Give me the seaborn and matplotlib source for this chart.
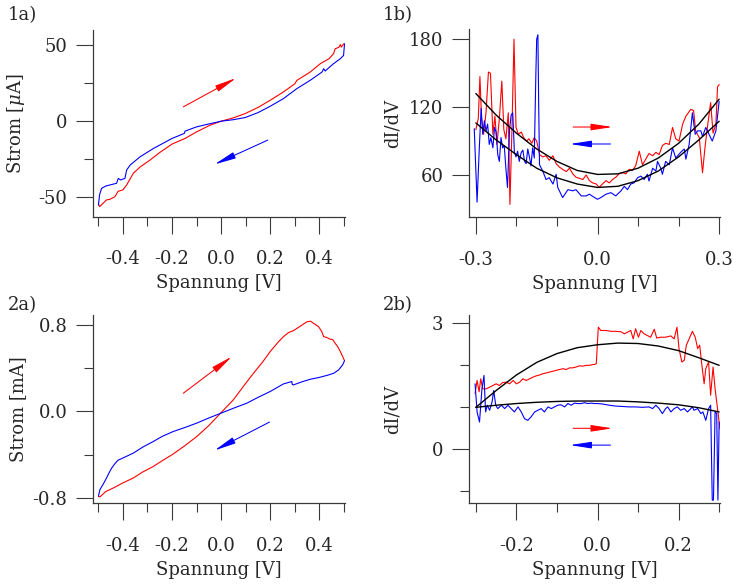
import pandas as pd
import seaborn as sns
import matplotlib.pyplot as plt

# 1a) I-V loop, current in uA
iv1_up_v = [-0.500, -0.495, -0.467, -0.453, -0.433, -0.420, -0.400, -0.385, -0.358, -0.330, -0.290,
            -0.250, -0.200, -0.147, -0.100, -0.045, 0.000, 0.050, 0.098, 0.150, 0.200, 0.254,
            0.300, 0.309, 0.363, 0.404, 0.440, 0.458, 0.465, 0.480, 0.486, 0.490, 0.500]
iv1_up_i = [-54.2, -56.0, -51.6, -51.2, -49.5, -46.0, -45.0, -41.8, -34.2, -30.0, -25.5,
            -20.5, -15.0, -11.3, -7.0, -2.6, 0.0, 2.2, 5.0, 9.0, 13.7, 19.2,
            24.5, 26.8, 32.2, 37.7, 41.0, 44.2, 47.5, 48.5, 50.3, 48.6, 50.8]
iv1_down_v = [0.503, 0.499, 0.486, 0.458, 0.424, 0.418, 0.411, 0.363, 0.309, 0.254, 0.200, 0.150,
              0.098, 0.050, 0.000, -0.050, -0.100, -0.147, -0.150, -0.200, -0.276, -0.330, -0.371,
              -0.385, -0.392, -0.410, -0.419, -0.426, -0.453, -0.470, -0.487, -0.495, -0.500]
iv1_down_i = [50.8, 43.1, 41.0, 37.7, 32.9, 34.4, 32.2, 26.8, 21.4, 14.8, 9.8, 5.6,
              2.4, 1.0, 0.0, -1.8, -3.7, -6.5, -8.0, -11.3, -17.9, -23.3, -28.8,
              -32.0, -37.5, -38.5, -37.5, -40.7, -41.8, -42.5, -44.0, -48.0, -55.0]

# 1b) dI/dV
di1_up_v = [-0.300, -0.294, -0.290, -0.286, -0.281, -0.275, -0.269, -0.264, -0.258, -0.253,
            -0.248, -0.242, -0.236, -0.231, -0.226, -0.220, -0.216, -0.211, -0.206, -0.201,
            -0.195, -0.188, -0.182, -0.175, -0.169, -0.162, -0.156, -0.150, -0.143, -0.135,
            -0.127, -0.119, -0.110, -0.102, -0.094, -0.086, -0.077, -0.069, -0.061, -0.053,
            -0.044, -0.036, -0.028, -0.020, -0.012, -0.003, 0.004, 0.012, 0.021, 0.029,
            0.037, 0.045, 0.053, 0.062, 0.070, 0.078, 0.086, 0.094, 0.103, 0.111,
            0.119, 0.127, 0.136, 0.144, 0.152, 0.160, 0.168, 0.177, 0.185, 0.193,
            0.201, 0.210, 0.218, 0.230, 0.237, 0.242, 0.251, 0.259, 0.265, 0.271,
            0.279, 0.285, 0.292, 0.296, 0.300]
di1_up_g = [100, 110, 147, 110, 96, 115, 151, 150, 96, 112,
            87, 110, 143, 100, 92, 115, 34, 100, 180, 102,
            96, 98, 93, 90, 92, 88, 93, 90, 78, 76,
            77, 73, 77, 70, 67, 65, 63, 66, 61, 58,
            57, 56, 60, 55, 53, 52, 49, 52, 55, 53,
            56, 58, 61, 62, 61, 65, 64, 68, 81, 69,
            74, 79, 77, 80, 78, 86, 88, 87, 102, 92,
            90, 105, 112, 118, 117, 99, 93, 62, 84, 102,
            124, 97, 105, 138, 140]
di1_down_v = [-0.304, -0.297, -0.292, -0.287, -0.283, -0.279, -0.275, -0.271, -0.267, -0.263,
              -0.258, -0.254, -0.250, -0.246, -0.242, -0.238, -0.234, -0.230, -0.226, -0.222,
              -0.217, -0.213, -0.209, -0.205, -0.201, -0.197, -0.193, -0.188, -0.184, -0.180,
              -0.176, -0.172, -0.168, -0.164, -0.160, -0.156, -0.152, -0.150, -0.147, -0.145,
              -0.143, -0.135, -0.127, -0.119, -0.110, -0.102, -0.098, -0.086, -0.073, -0.061,
              -0.053, -0.040, -0.028, -0.020, -0.007, 0.000, 0.008, 0.021, 0.033, 0.045,
              0.058, 0.066, 0.074, 0.082, 0.090, 0.099, 0.107, 0.115, 0.123, 0.127,
              0.136, 0.144, 0.148, 0.156, 0.160, 0.168, 0.177, 0.185, 0.193, 0.205,
              0.214, 0.218, 0.226, 0.234, 0.241, 0.247, 0.255, 0.259, 0.267, 0.275,
              0.283, 0.292, 0.300]
di1_down_g = [101, 36, 80, 119, 96, 108, 99, 105, 87, 93,
              84, 102, 98, 78, 72, 93, 84, 86, 66, 49,
              100, 113, 115, 80, 76, 81, 72, 80, 82, 72,
              70, 83, 76, 68, 84, 75, 150, 180, 184, 120,
              69, 63.5, 56, 57.6, 52, 60.6, 49, 40, 47, 46,
              47, 41.5, 41.5, 43, 40, 38.5, 40, 43, 44.4, 41.5,
              46, 50, 47, 52, 53, 57.6, 59, 56, 60.6, 54.7,
              66, 63.5, 72, 66, 60.6, 72, 69, 84, 75, 80,
              83, 74, 87, 115, 96, 99, 99, 94, 102, 96,
              90, 99, 125]

fit_v = [-0.30, -0.25, -0.20, -0.15, -0.10, -0.05, 0.00, 0.05, 0.10, 0.15, 0.20, 0.25, 0.30]
fit1_upper = [132, 113, 97, 83, 72, 64, 60.5, 61, 66, 75, 88, 105, 127]
fit1_lower = [106, 91, 78, 66, 57.5, 52, 49, 50, 55, 63.5, 76, 91, 107.5]

# 2a) I-V loop, current in mA
iv2_up_v = [-0.498, -0.494, -0.470, -0.440, -0.400, -0.358, -0.320, -0.276, -0.240, -0.200,
            -0.150, -0.099, -0.050, 0.000, 0.050, 0.100, 0.132, 0.170, 0.200, 0.230,
            0.254, 0.275, 0.295, 0.320, 0.350, 0.365, 0.377, 0.397, 0.410, 0.418,
            0.430, 0.445, 0.455, 0.465, 0.475, 0.486, 0.495, 0.503]
iv2_up_i = [-0.785, -0.79, -0.74, -0.708, -0.66, -0.615, -0.56, -0.508, -0.455, -0.40,
            -0.32, -0.231, -0.13, -0.01, 0.108, 0.26, 0.354, 0.46, 0.554, 0.635,
            0.692, 0.73, 0.748, 0.785, 0.83, 0.835, 0.815, 0.785, 0.74, 0.692,
            0.685, 0.668, 0.665, 0.63, 0.60, 0.554, 0.51, 0.47]
iv2_down_v = [0.503, 0.495, 0.479, 0.460, 0.438, 0.400, 0.363, 0.330, 0.295, 0.290,
              0.288, 0.254, 0.200, 0.150, 0.105, 0.050, 0.000, -0.050, -0.100, -0.150,
              -0.195, -0.240, -0.276, -0.320, -0.358, -0.400, -0.420, -0.433, -0.445, -0.455,
              -0.467, -0.480, -0.494, -0.500]
iv2_down_i = [0.47, 0.43, 0.385, 0.355, 0.338, 0.315, 0.298, 0.275, 0.246, 0.25,
              0.277, 0.255, 0.185, 0.13, 0.077, 0.03, -0.015, -0.06, -0.108, -0.15,
              -0.185, -0.23, -0.277, -0.33, -0.385, -0.43, -0.45, -0.483, -0.52, -0.56,
              -0.615, -0.67, -0.723, -0.785]

# 2b) dI/dV
di2_up_v = [-0.302, -0.297, -0.292, -0.288, -0.283, -0.275, -0.266, -0.258, -0.250, -0.242,
            -0.234, -0.225, -0.217, -0.208, -0.200, -0.192, -0.184, -0.176, -0.167, -0.159,
            -0.151, -0.143, -0.135, -0.126, -0.118, -0.110, -0.102, -0.094, -0.085, -0.077,
            -0.069, -0.061, -0.053, -0.044, -0.036, -0.028, -0.020, -0.012, -0.007, -0.003,
            0.002, 0.008, 0.021, 0.033, 0.045, 0.058, 0.066, 0.074, 0.082, 0.088,
            0.094, 0.101, 0.107, 0.115, 0.123, 0.131, 0.140, 0.146, 0.156, 0.168,
            0.181, 0.189, 0.196, 0.201, 0.208, 0.214, 0.219, 0.226, 0.234, 0.241,
            0.247, 0.252, 0.257, 0.263, 0.267, 0.274, 0.279, 0.285, 0.290, 0.296,
            0.302]
di2_up_g = [1.33, 1.64, 1.37, 1.68, 1.44, 1.44, 1.48, 1.52, 1.56, 1.52,
            1.59, 1.60, 1.56, 1.64, 1.56, 1.60, 1.68, 1.64, 1.68, 1.72,
            1.75, 1.77, 1.80, 1.82, 1.84, 1.86, 1.88, 1.90, 1.92, 1.90,
            1.94, 1.94, 1.96, 1.99, 1.98, 2.00, 2.00, 2.02, 2.02, 2.04,
            2.91, 2.83, 2.83, 2.81, 2.81, 2.80, 2.75, 2.79, 2.83, 2.63,
            2.87, 2.67, 2.83, 2.75, 2.71, 2.67, 2.86, 2.65, 2.67, 2.67,
            2.70, 2.63, 2.91, 2.40, 2.08, 2.12, 2.48, 2.63, 2.81, 2.67,
            2.40, 2.48, 2.04, 1.56, 1.92, 2.08, 1.29, 1.96, 1.44, 0.97,
            0.49]
di2_down_v = [-0.302, -0.297, -0.291, -0.285, -0.280, -0.276, -0.272, -0.266, -0.260, -0.256,
              -0.251, -0.246, -0.237, -0.229, -0.221, -0.213, -0.205, -0.196, -0.188, -0.180,
              -0.172, -0.164, -0.155, -0.147, -0.139, -0.131, -0.122, -0.114, -0.106, -0.098,
              -0.090, -0.081, -0.073, -0.065, -0.057, -0.048, -0.040, -0.032, -0.024, -0.016,
              -0.007, 0.000, 0.012, 0.029, 0.045, 0.062, 0.078, 0.094, 0.111, 0.127,
              0.136, 0.144, 0.152, 0.160, 0.168, 0.173, 0.181, 0.189, 0.197, 0.205,
              0.214, 0.222, 0.230, 0.234, 0.238, 0.247, 0.255, 0.260, 0.267, 0.274,
              0.279, 0.283, 0.286, 0.290, 0.294, 0.297, 0.300]
di2_down_g = [1.56, 0.89, 0.65, 1.44, 1.76, 0.89, 1.05, 0.93, 1.13, 1.40,
              1.05, 0.97, 1.05, 0.97, 1.05, 0.97, 0.89, 1.01, 0.89, 0.73,
              0.69, 0.77, 0.89, 0.93, 0.97, 0.89, 1.01, 0.97, 1.01, 1.05,
              1.06, 1.01, 1.09, 1.05, 1.10, 1.09, 1.09, 1.11, 1.09, 1.10,
              1.09, 1.09, 1.08, 1.05, 1.03, 1.02, 1.01, 1.01, 1.00, 1.01,
              0.97, 1.05, 0.97, 0.85, 0.97, 1.01, 0.89, 0.97, 1.01, 0.93,
              0.97, 0.89, 0.97, 1.01, 0.93, 0.97, 0.85, 0.89, 0.69, 0.97,
              1.05, -1.21, -1.21, 0.90, 0.85, -1.21, 0.65]
fit2_upper = [1.0, 1.4, 1.77, 2.07, 2.28, 2.42, 2.49, 2.53, 2.52, 2.46, 2.35, 2.18, 2.0]
fit2_lower = [1.0, 1.05, 1.09, 1.12, 1.14, 1.15, 1.15, 1.15, 1.13, 1.10, 1.06, 0.99, 0.89]

sns.set_style('ticks')
plt.rcParams['font.family'] = ['DejaVu Serif']
plt.rcParams['mathtext.fontset'] = 'dejavuserif'
plt.rcParams['axes.unicode_minus'] = False
FS = 13
AX_COL = '#3a3a3a'

fig = plt.figure(figsize=(7.33, 5.86), dpi=100)
ax1a = fig.add_axes([0.1269, 0.6297, 0.3438, 0.3191])
ax1b = fig.add_axes([0.6398, 0.6292, 0.3424, 0.3208])
ax2a = fig.add_axes([0.1269, 0.1411, 0.3438, 0.3213])
ax2b = fig.add_axes([0.6398, 0.1411, 0.3424, 0.3213])


def line(ax, x, y, color, lw=0.8):
    df = pd.DataFrame({'x': x, 'y': y})
    sns.lineplot(data=df, x='x', y='y', ax=ax, color=color, lw=lw,
                 sort=False, estimator=None)


def arrow(ax, tail, head, color):
    ax.annotate('', xy=head, xytext=tail,
                arrowprops=dict(arrowstyle='-|>,head_length=1.3,head_width=0.2',
                                color=color, lw=0.75, shrinkA=0, shrinkB=0,
                                mutation_scale=10))


def style(ax, xlim, ylim, xmaj, xmin, ymaj, ymin, ylab, ylab_x):
    sns.despine(ax=ax)
    ax.set_xlim(*xlim)
    ax.set_ylim(*ylim)
    ax.set_xticks(xmaj)
    ax.set_xticklabels(['%.1f' % v for v in xmaj])
    ax.set_xticks(xmin, minor=True)
    ax.set_yticks(ymaj)
    ax.set_yticks(ymin, minor=True)
    for s in ['left', 'bottom']:
        ax.spines[s].set_color(AX_COL)
        ax.spines[s].set_linewidth(0.9)
    ax.tick_params(which='major', length=12, width=0.8, color=AX_COL, labelsize=FS)
    ax.tick_params(which='minor', length=6.5, width=0.8, color=AX_COL)
    ax.tick_params(axis='x', which='major', pad=12)
    ax.tick_params(axis='y', which='major', pad=6.5)
    ax.set_xlabel('Spannung [V]', fontsize=FS)
    ax.set_ylabel(ylab, fontsize=FS)
    ax.xaxis.set_label_coords(0.5, -0.305)
    ax.yaxis.set_label_coords(ylab_x, 0.5)


# 1a
line(ax1a, iv1_up_v, iv1_up_i, 'red')
line(ax1a, iv1_down_v, iv1_down_i, 'blue')
arrow(ax1a, (-0.154, 9.4), (0.061, 28.3), 'red')
arrow(ax1a, (0.19, -12.4), (-0.027, -28.3), 'blue')
style(ax1a, (-0.522, 0.505), (-62.8, 59.8), [-0.4, -0.2, 0.0, 0.2, 0.4],
      [-0.5, -0.3, -0.1, 0.1, 0.3, 0.5], [-50, 0, 50], [-25, 25],
      r'Strom [$\mu$A]', -0.26)

# 1b
line(ax1b, di1_up_v, di1_up_g, 'red')
line(ax1b, di1_down_v, di1_down_g, 'blue')
line(ax1b, fit_v, fit1_upper, 'black', 1.0)
line(ax1b, fit_v, fit1_lower, 'black', 1.0)
arrow(ax1b, (-0.06, 102.4), (0.037, 102.4), 'red')
arrow(ax1b, (0.032, 87.4), (-0.068, 87.4), 'blue')
style(ax1b, (-0.317, 0.302), (22.6, 188.8), [-0.3, 0.0, 0.3],
      [-0.2, -0.1, 0.1, 0.2], [60, 120, 180], [], 'dI/dV', -0.267)

# 2a
line(ax2a, iv2_up_v, iv2_up_i, 'red')
line(ax2a, iv2_down_v, iv2_down_i, 'blue')
arrow(ax2a, (-0.154, 0.169), (0.044, 0.508), 'red')
arrow(ax2a, (0.197, -0.098), (-0.027, -0.36), 'blue')
style(ax2a, (-0.522, 0.505), (-0.849, 0.892), [-0.4, -0.2, 0.0, 0.2, 0.4],
      [-0.5, -0.3, -0.1, 0.1, 0.3, 0.5], [-0.8, 0.0, 0.8], [-0.4, 0.4],
      'Strom [mA]', -0.26)
ax2a.set_yticklabels(['-0.8', '0.0', '0.8'])

# 2b
line(ax2b, di2_up_v, di2_up_g, 'red')
line(ax2b, di2_down_v, di2_down_g, 'blue')
line(ax2b, fit_v, fit2_upper, 'black', 1.0)
line(ax2b, fit_v, fit2_lower, 'black', 1.0)
arrow(ax2b, (-0.06, 0.5), (0.037, 0.5), 'red')
arrow(ax2b, (0.032, 0.1), (-0.068, 0.1), 'blue')
style(ax2b, (-0.317, 0.302), (-1.286, 3.198), [-0.2, 0.0, 0.2],
      [-0.3, -0.1, 0.1, 0.3], [0, 3], [-1, 1, 2], 'dI/dV', -0.267)

for txt, x, y in [('1a)', 8, 6), ('1b)', 383, 6), ('2a)', 8, 296), ('2b)', 383, 296)]:
    fig.text(x / 733, 1 - y / 586, txt, fontsize=FS, ha='left', va='top')

fig.savefig('out.png', dpi=100)
